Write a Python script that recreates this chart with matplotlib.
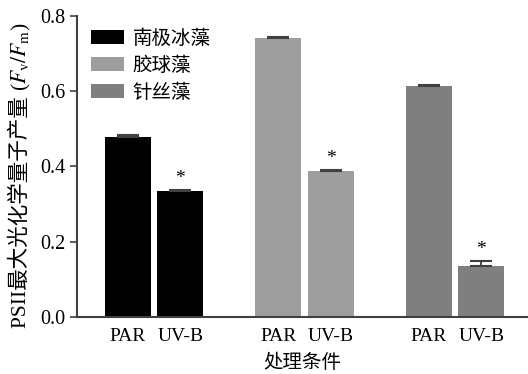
import matplotlib
matplotlib.use("Agg")
import matplotlib.pyplot as plt
import numpy as np

plt.rcParams["font.family"] = ["Liberation Serif", "Noto Sans CJK SC"]
plt.rcParams["mathtext.fontset"] = "stix"

species = ["南极冰藻", "胶球藻", "针丝藻"]
treatments = ["PAR", "UV-B"]
par_vals = [0.478, 0.741, 0.614]
par_err = [0.005, 0.002, 0.002]
uvb_vals = [0.335, 0.389, 0.136]
uvb_err = [0.002, 0.002, 0.014]
colors = ["#000000", "#9e9e9e", "#7f7f7f"]

AX_COL = "#404040"
FS = 14

fig = plt.figure(figsize=(5.28, 3.74), dpi=100)
ax = fig.add_axes([0.1458, 0.1524, 0.852, 0.805])

width = 0.306
off = 0.1745
x = np.arange(len(species))
tick_pos, tick_lab = [], []
for i, sp in enumerate(species):
    for xx, v, e in ((x[i] - off, par_vals[i], par_err[i]),
                     (x[i] + off, uvb_vals[i], uvb_err[i])):
        ax.bar(xx, v, width, color=colors[i], edgecolor="none",
               label=sp if xx < x[i] else None, zorder=2)
        ax.errorbar(xx, v, yerr=[[0], [e]], fmt="none", ecolor=AX_COL,
                    elinewidth=1.3, capsize=8, capthick=1.5, zorder=3)
    # significance marker over UV-B bar
    ax.annotate("*", xy=(x[i] + off, uvb_vals[i] + uvb_err[i]),
                xytext=(0, 2), textcoords="offset points",
                ha="center", va="bottom", fontsize=14)
    tick_pos += [x[i] - off, x[i] + off]
    tick_lab += treatments

ax.set_xlim(-0.513, 2.477)
ax.set_ylim(0, 0.8)
ax.set_yticks([0.0, 0.2, 0.4, 0.6, 0.8])
ax.set_yticklabels(["0.0", "0.2", "0.4", "0.6", "0.8"], fontsize=14.5)
ax.set_xticks(tick_pos)
ax.set_xticklabels(tick_lab, fontsize=FS)
ax.tick_params(axis="y", direction="out", length=5, width=1.2, color=AX_COL, pad=3)
ax.tick_params(axis="x", direction="in", length=6, width=1.2, color=AX_COL, pad=8)
for s in ("top", "right"):
    ax.spines[s].set_visible(False)
for s in ("left", "bottom"):
    ax.spines[s].set_color(AX_COL)
    ax.spines[s].set_linewidth(1.5)

ax.set_xlabel("处理条件", fontsize=FS, labelpad=6)

ax.legend(loc="upper left", bbox_to_anchor=(0.0, 1.0), frameon=False,
          fontsize=FS, handlelength=1.7, handleheight=0.75,
          handletextpad=0.45, labelspacing=0.45, borderaxespad=0.3)

# y label: CJK part and mathtext part drawn separately so both fonts render
W, H = fig.get_size_inches() * fig.dpi
ylab_x = 21 / W
YFS = 15.5
t1 = fig.text(ylab_x, 0, "PSII最大光化学量子产量 ", rotation=90,
              ha="center", va="bottom", fontsize=YFS)
t2 = fig.text(ylab_x, 0, r"($F_\mathrm{v}/F_\mathrm{m}$)", rotation=90,
              ha="center", va="bottom", fontsize=YFS)
fig.canvas.draw()
r = fig.canvas.get_renderer()
h1 = t1.get_window_extent(r).height
h2 = t2.get_window_extent(r).height
centre = H - 175
y0 = centre - (h1 + h2) / 2
t1.set_y(y0 / H)
t2.set_y((y0 + h1) / H)

fig.savefig("out.png", dpi=100)
